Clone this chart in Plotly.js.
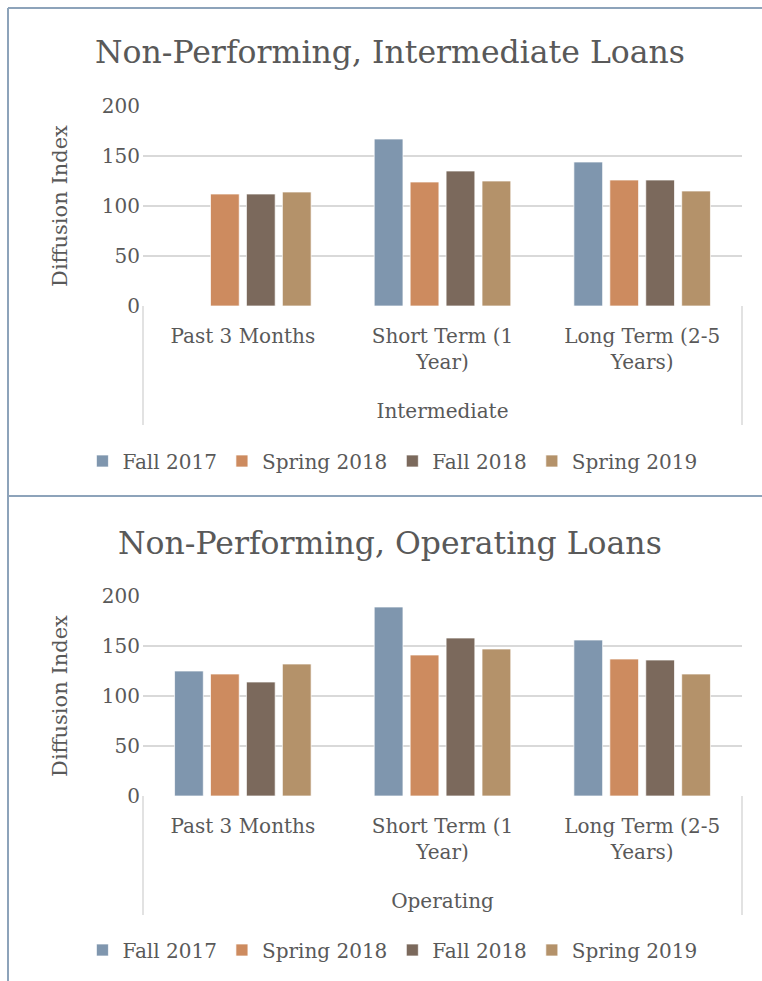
<!DOCTYPE html>
<html>
<head>
<meta charset="utf-8">
<script src="https://cdn.plot.ly/plotly-3.0.1.min.js"></script>
<style>html,body{margin:0;padding:0;background:#fff;}#chart{width:762px;height:981px;}</style>
</head>
<body>
<div id="chart"></div>
<script>
// ---- data ----
const categories = ["Past 3 Months", "Short Term (1<br>Year)", "Long Term (2-5<br>Years)"];
const seriesNames = ["Fall 2017", "Spring 2018", "Fall 2018", "Spring 2019"];
const seriesColors = ["#7F96AE", "#CD8B5F", "#7B695C", "#B4926A"];

// Intermediate loans (top chart)
const intermediateFall2017   = [null, 167, 144];
const intermediateSpring2018 = [112, 124, 126];
const intermediateFall2018   = [112, 135, 126];
const intermediateSpring2019 = [114, 125, 115];

// Operating loans (bottom chart)
const operatingFall2017   = [125, 189, 156];
const operatingSpring2018 = [122, 141, 137];
const operatingFall2018   = [114, 158, 136];
const operatingSpring2019 = [132, 147, 122];

const yTicks = [0, 50, 100, 150, 200];

const intermediate = [intermediateFall2017, intermediateSpring2018, intermediateFall2018, intermediateSpring2019];
const operating = [operatingFall2017, operatingSpring2018, operatingFall2018, operatingSpring2019];

// ---- styling ----
const W = 762, H = 981;
const FONT = "DejaVu Serif";
const TXT = "#595959";
const py = p => 1 - p / H;
const px = p => p / W;

const traces = [];
seriesNames.forEach((name, i) => {
  traces.push({
    type: "bar", name: name, x: categories, y: intermediate[i],
    xaxis: "x", yaxis: "y", legend: "legend",
    marker: {color: seriesColors[i], line: {color: "rgba(255,255,255,0.7)", width: 1}},
    hoverinfo: "y"
  });
});
seriesNames.forEach((name, i) => {
  traces.push({
    type: "bar", name: name, x: categories, y: operating[i],
    xaxis: "x2", yaxis: "y2", legend: "legend2",
    marker: {color: seriesColors[i], line: {color: "rgba(255,255,255,0.7)", width: 1}},
    hoverinfo: "y"
  });
});

function xAxis(title, anchor) {
  return {
    domain: [px(143), px(742)], anchor: anchor, type: "category",
    showgrid: false, showline: false, zeroline: false, ticks: "",
    tickfont: {family: FONT, size: 20, color: TXT},
    ticklabelstandoff: 16,
    title: {text: title, font: {family: FONT, size: 20, color: TXT}, standoff: 30},
    automargin: false, fixedrange: true
  };
}
function yAxis(domain, anchor) {
  return {
    domain: domain, anchor: anchor, range: [0, 200],
    tickvals: yTicks, ticktext: yTicks.map(String),
    showgrid: true, gridcolor: "#D9D9D9", gridwidth: 1.5,
    zeroline: false, showline: false, ticks: "",
    tickfont: {family: FONT, size: 20, color: TXT},
    ticklabelstandoff: 2,
    title: {text: "Diffusion Index", font: {family: FONT, size: 21, color: TXT}, standoff: 28},
    automargin: false, fixedrange: true
  };
}

const borderColor = "#8DA3BA";
const boxColor = "#D9D9D9";
const shapes = [
  // outer chart borders
  {type: "line", xref: "paper", yref: "paper", x0: px(8), x1: 1.01, y0: py(8), y1: py(8), line: {color: borderColor, width: 2}},
  {type: "line", xref: "paper", yref: "paper", x0: px(8), x1: px(8), y0: py(8), y1: -0.01, line: {color: borderColor, width: 2}},
  {type: "line", xref: "paper", yref: "paper", x0: px(8), x1: 1.01, y0: py(496), y1: py(496), line: {color: borderColor, width: 2}},
  // category axis boxes
  {type: "line", xref: "paper", yref: "paper", x0: px(143), x1: px(143), y0: py(306), y1: py(425), line: {color: boxColor, width: 1.5}},
  {type: "line", xref: "paper", yref: "paper", x0: px(742), x1: px(742), y0: py(306), y1: py(425), line: {color: boxColor, width: 1.5}},
  {type: "line", xref: "paper", yref: "paper", x0: px(143), x1: px(143), y0: py(796), y1: py(915), line: {color: boxColor, width: 1.5}},
  {type: "line", xref: "paper", yref: "paper", x0: px(742), x1: px(742), y0: py(796), y1: py(915), line: {color: boxColor, width: 1.5}}
];

const legendBase = {
  orientation: "h", xanchor: "center", x: 0.515, yanchor: "middle",
  font: {family: FONT, size: 20, color: TXT}, bgcolor: "rgba(0,0,0,0)",
  itemwidth: 30, tracegroupgap: 0
};

const layout = {
  width: W, height: H,
  margin: {l: 0, r: 0, t: 0, b: 0},
  paper_bgcolor: "#FFFFFF", plot_bgcolor: "#FFFFFF",
  showlegend: true,
  barmode: "group", bargap: 0.28, bargroupgap: 0.2,
  title: {text: "Non-Performing, Intermediate Loans", x: px(390), xanchor: "center", y: py(52), yanchor: "middle",
          font: {family: FONT, size: 31.5, color: TXT}},
  xaxis: xAxis("Intermediate", "y"),
  yaxis: yAxis([py(306), py(106)], "x"),
  xaxis2: xAxis("Operating", "y2"),
  yaxis2: yAxis([py(796), py(596)], "x2"),
  legend: Object.assign({}, legendBase, {y: py(461)}),
  legend2: Object.assign({}, legendBase, {y: py(950)}),
  shapes: shapes,
  annotations: [
    {text: "Non-Performing, Operating Loans", xref: "paper", yref: "paper", x: px(390), y: py(543),
     xanchor: "center", yanchor: "middle", showarrow: false, font: {family: FONT, size: 31.5, color: TXT}}
  ]
};

Plotly.newPlot("chart", traces, layout, {displayModeBar: false, staticPlot: true});
</script>
</body>
</html>
